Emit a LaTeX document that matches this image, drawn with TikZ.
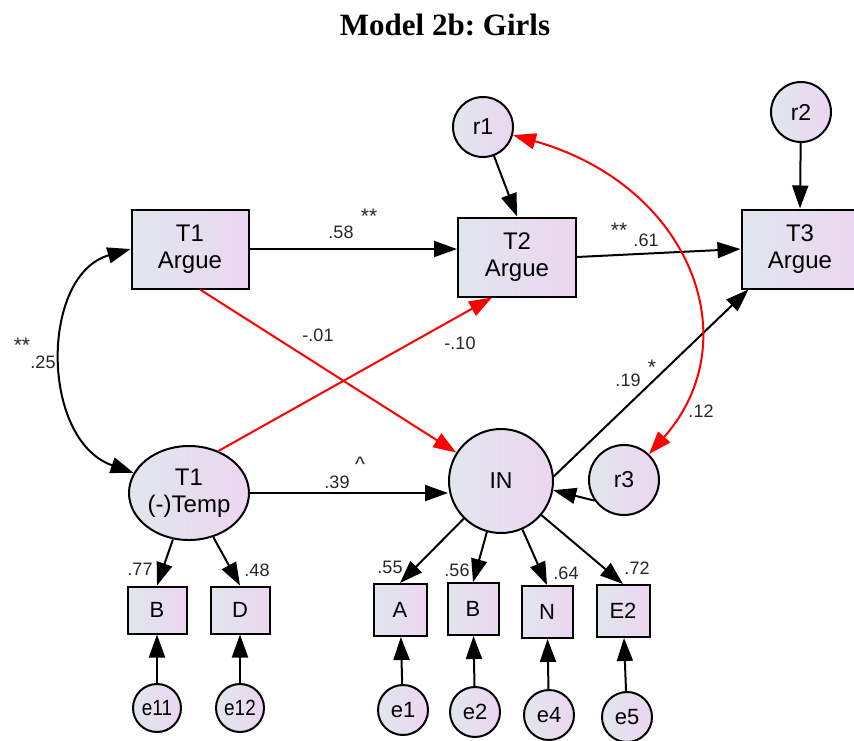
\documentclass[tikz,border=0pt]{standalone}
\usepackage{fontspec}
\setmainfont{Liberation Sans}
\newfontfamily\titlefont{Liberation Serif}
\usetikzlibrary{arrows.meta, shapes.geometric}
\frenchspacing
\definecolor{semfillA}{HTML}{E1E6EE}
\definecolor{semfillB}{HTML}{ECD6F0}
\definecolor{negred}{HTML}{FF0000}
\tikzset{
  semfill/.style={left color=semfillA, right color=semfillB, draw=black, line width=2pt, inner sep=0pt, align=center},
  box/.style={semfill, rectangle, minimum width=117pt, minimum height=79pt, font=\fontsize{24}{27}\selectfont},
  indicator/.style={semfill, rectangle, minimum width=53pt, minimum height=52pt, font=\fontsize{22}{25}\selectfont},
  latent/.style={semfill, ellipse, minimum width=120pt, minimum height=94pt, font=\fontsize{24}{27}\selectfont},
  resid/.style={semfill, circle, minimum size=60pt, font=\fontsize{23}{26}\selectfont},
  errterm/.style={semfill, circle, minimum size=50pt, font=\fontsize{22}{25}\selectfont},
  flow/.style={-{Triangle[length=23pt, width=16pt]}, line width=2pt, draw=black},
  corr/.style={{Triangle[length=23pt, width=16pt]}-{Triangle[length=23pt, width=16pt]}, line width=2pt},
  coef/.style={font=\fontsize{18}{20}\selectfont, inner sep=0pt, text=black!85},
  star/.style={font=\fontsize{21}{22}\selectfont, inner sep=0pt, text=black!85}
}
\begin{document}
\begin{tikzpicture}[x=1pt, y=-1pt]
\useasboundingbox (0,0) rectangle (854,740);

\node[anchor=base, font=\titlefont\bfseries\fontsize{31}{34}\selectfont] (title) at (445,35) {Model 2b: Girls};

% structural part
\node[box] (ta1) at (190,249) {T1\\Argue};
\node[box, minimum width=118pt] (ta2) at (517,257) {T2\\Argue};
\node[box] (ta3) at (800,249) {T3\\Argue};
\node[resid] (r1) at (483,127) {r1};
\node[resid] (r2) at (801,112) {r2};
\node[latent] (temp) at (189,493) {T1\\(-)Temp};
\node[semfill, circle, minimum size=104pt, font=\fontsize{23}{26}\selectfont] (IN) at (501,481) {IN};
\node[resid, minimum size=70pt] (r3) at (624,480) {r3};

% measurement part
\node[indicator, minimum width=59pt, minimum height=47pt] (b1) at (157,610) {B};
\node[indicator, minimum width=59pt, minimum height=47pt] (d1) at (240,610) {D};
\node[indicator] (a2) at (400,610) {A};
\node[indicator, minimum width=51pt] (b2) at (473,609) {B};
\node[indicator, minimum width=51pt] (n2) at (547,612) {N};
\node[indicator] (e2box) at (623,611) {E2};

\node[errterm, minimum size=48pt] (e11) at (157,708) {\scalebox{0.86}[1]{e11}};
\node[errterm, minimum size=48pt] (e12) at (240,708) {\scalebox{0.86}[1]{e12}};
\node[errterm] (e1) at (403,710) {e1};
\node[errterm] (e2) at (475,712) {e2};
\node[errterm] (e4) at (549,715) {e4};
\node[errterm] (e5) at (627,717) {e5};

% paths
\draw[flow] (ta1.east) -- (ta1.east -| ta2.west);
\draw[flow] (ta2.east) -- (ta3.west);
\draw[flow] (r1) -- (ta2.north);
\draw[flow] (r2) -- (ta3.north);
\draw[flow, draw=negred] ([xshift=10pt]ta1.south) -- (IN);
\draw[flow, draw=negred] (temp.55) -- ([xshift=-25pt]ta2.south);
\draw[flow] (temp.east) -- (temp.east -| IN.west);
\draw[flow] (IN.5) -- ([xshift=8pt]ta3.south west);
\draw[flow] (r3.215) -- (IN.-10);
\draw[corr, draw=negred] (r1.-15) .. controls (690,185) and (750,340) .. (r3.46);
\draw[corr] (ta1.west) .. controls (40,275) and (40,440) .. (temp.160);

\draw[flow] (temp) -- (b1.north);
\draw[flow] (temp) -- (d1.north);
\draw[flow] (IN) -- (a2.north);
\draw[flow] (IN) -- (b2.north);
\draw[flow] (IN) -- (n2.north);
\draw[flow] (IN) -- (e2box.north);
\foreach \err/\ind in {e11/b1, e12/d1, e1/a2, e2/b2, e4/n2, e5/e2box}
  \draw[flow] (\err) -- (\ind);

% estimates
\node[coef] (c58) at (341,232) {.58};
\node[star] (s58) at (369,216) {**};
\node[star] (s61) at (619,230) {**};
\node[coef] (c61) at (646,240) {.61};
\node[coef] (c01) at (318,335) {-.01};
\node[coef] (c10) at (460,343) {-.10};
\node[coef] (c25) at (43,362) {.25};
\node[star] (s25) at (22,345) {**};
\node[coef] (c39) at (337,482) {.39};
\node[star] (s39) at (360,464) {\^{}};
\node[coef] (c19) at (628,380) {.19};
\node[star] (s19) at (652,367) {*};
\node[coef] (c12) at (701,411) {.12};
\node[coef] (c77) at (140,569) {.77};
\node[coef] (c48) at (257,570) {.48};
\node[coef] (c55) at (390,567) {.55};
\node[coef] (c56) at (457,570) {.56};
\node[coef] (c64) at (566,573) {.64};
\node[coef] (c72) at (637,568) {.72};

\end{tikzpicture}
\end{document}
